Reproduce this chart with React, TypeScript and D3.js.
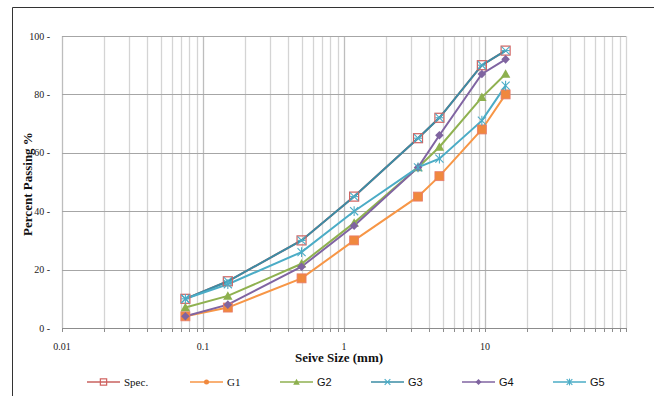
import React from "react";
import * as d3 from "d3";

const sizes = [0.075, 0.15, 0.5, 1.18, 3.35, 4.75, 9.5, 14];
const spec = [10, 16, 30, 45, 65, 72, 90, 95];
const g1 = [4, 7, 17, 30, 45, 52, 68, 80];
const g2 = [7, 11, 22, 36, 55, 62, 79, 87];
const g3 = [10, 16, 30, 45, 65, 72, 90, 95];
const g4 = [4, 8, 21, 35, 55, 66, 87, 92];
const g5 = [10, 15, 26, 40, 55, 58, 71, 83];
const yTicks = [0, 20, 40, 60, 80, 100];
const xLabels = [0.01, 0.1, 1, 10];
const seriesNames = ["Spec.", "G1", "G2", "G3", "G4", "G5"];

const W = 654;
const H = 396;
const x = d3.scaleLog().domain([0.01, 100]).range([62, 626]);
const y = d3.scaleLinear().domain([0, 100]).range([328, 36]);

const serif = "'Liberation Serif', 'DejaVu Serif', serif";
const sans = "'Liberation Sans', Arial, sans-serif";

type S = { name: string; values: number[]; color: string; marker: string; mcolor: string; mstroke: string };
const series: S[] = [
  { name: seriesNames[0], values: spec, color: "#C9625F", marker: "hsquare", mcolor: "none", mstroke: "#D0605E" },
  { name: seriesNames[1], values: g1, color: "#F79646", marker: "square", mcolor: "#F0883E", mstroke: "#E87C6C" },
  { name: seriesNames[2], values: g2, color: "#8FB150", marker: "triangle", mcolor: "#8DB04E", mstroke: "#8DB04E" },
  { name: seriesNames[3], values: g3, color: "#3B8CA5", marker: "xstar", mcolor: "#4BACC6", mstroke: "#4BACC6" },
  { name: seriesNames[4], values: g4, color: "#8064A2", marker: "diamond", mcolor: "#7F64A0", mstroke: "#7F64A0" },
  { name: seriesNames[5], values: g5, color: "#4BACC6", marker: "star", mcolor: "#4BACC6", mstroke: "#4BACC6" },
];

function Marker({ kind, cx, cy, fill, stroke, scale = 1 }: { kind: string; cx: number; cy: number; fill: string; stroke: string; scale?: number }) {
  const r = 4.5 * scale;
  if (kind === "hsquare")
    return <rect x={cx - r} y={cy - r} width={2 * r} height={2 * r} fill="none" stroke={stroke} strokeWidth={1.2} />;
  if (kind === "square")
    return <rect x={cx - r} y={cy - r} width={2 * r} height={2 * r} fill={fill} stroke={stroke} strokeWidth={0.8} />;
  if (kind === "circle")
    return <circle cx={cx} cy={cy} r={r * 0.8} fill={fill} />;
  if (kind === "triangle") {
    const s = r * 1.05;
    return <path d={`M${cx},${cy - s} L${cx + s},${cy + s * 0.8} L${cx - s},${cy + s * 0.8}Z`} fill={fill} />;
  }
  if (kind === "diamond") {
    const s = r * 0.95;
    return <path d={`M${cx},${cy - s} L${cx + s},${cy} L${cx},${cy + s} L${cx - s},${cy}Z`} fill={fill} />;
  }
  if (kind === "xstar") {
    const s = r * 0.9;
    return (
      <g stroke={stroke} strokeWidth={1.1}>
        <line x1={cx - s} y1={cy - s} x2={cx + s} y2={cy + s} />
        <line x1={cx - s} y1={cy + s} x2={cx + s} y2={cy - s} />
        <line x1={cx - s} y1={cy} x2={cx + s} y2={cy} />
      </g>
    );
  }
  const s = r * 0.9;
  return (
    <g stroke={stroke} strokeWidth={1.1}>
      <line x1={cx - s} y1={cy - s} x2={cx + s} y2={cy + s} />
      <line x1={cx - s} y1={cy + s} x2={cx + s} y2={cy - s} />
      <line x1={cx} y1={cy - s * 1.2} x2={cx} y2={cy + s * 1.2} />
    </g>
  );
}

export default function App() {
  const minors: number[] = [];
  for (let k = -2; k <= 1; k++) for (let m = 1; m <= 9; m++) minors.push(m * Math.pow(10, k));
  minors.push(100);
  const line = d3
    .line<number>()
    .x((_, i) => x(sizes[i]))
    .y((d) => y(d));
  const legendX = [87, 190, 280, 371, 462, 553];
  const legendY = 382;
  return (
    <svg width={W} height={H} style={{ position: "absolute", left: 0, top: 0, background: "#fff" }}>
      <rect x={0} y={0} width={W} height={H} fill="#fff" />
      <line x1={12.5} y1={7.5} x2={12.5} y2={H} stroke="#333" strokeWidth={1} />
      <line x1={12.5} y1={7.5} x2={W} y2={7.5} stroke="#333" strokeWidth={1} />
      {minors.map((v, i) => (
        <line key={"v" + i} x1={Math.round(x(v)) + 0.5} x2={Math.round(x(v)) + 0.5} y1={y(100)} y2={y(0)} stroke={[0.01, 0.1, 1, 10].includes(v) ? "#BDBDBD" : "#D4D4D4"} strokeWidth={1.3} />
      ))}
      {yTicks.map((t) => (
        <line key={"h" + t} x1={x(0.01)} x2={x(100)} y1={Math.round(y(t)) + 0.5} y2={Math.round(y(t)) + 0.5} stroke={t === 0 ? "#8C8C8C" : "#A6A6A6"} strokeWidth={1.2} />
      ))}
      {minors.map((v, i) => (
        <line key={"t" + i} x1={Math.round(x(v)) + 0.5} x2={Math.round(x(v)) + 0.5} y1={y(0)} y2={y(0) + 4} stroke="#8C8C8C" strokeWidth={1} />
      ))}
      {yTicks.map((t) => (
        <text key={"yl" + t} x={50} y={y(t) + 3.5} textAnchor="end" fontFamily={serif} fontSize={10} fill="#222">
          {t} -
        </text>
      ))}
      {xLabels.map((v) => (
        <text key={"xl" + v} x={x(v)} y={350} textAnchor="middle" fontFamily={serif} fontSize={10} fill="#222">
          {v}
        </text>
      ))}
      <text x={339} y={362} textAnchor="middle" fontFamily={serif} fontSize={13} fontWeight="bold" fill="#111">
        Seive Size (mm)
      </text>
      <text transform={`translate(32,${184}) rotate(-90)`} textAnchor="middle" fontFamily={serif} fontSize={13} fontWeight="bold" fill="#111">
        Percent Passing %
      </text>
      {series.map((s) => (
        <path key={"l" + s.name} d={line(s.values) || ""} fill="none" stroke={s.color} strokeWidth={2} />
      ))}
      {series.map((s) => (
        <g key={"m" + s.name}>
          {s.values.map((v, i) => (
            <Marker key={i} kind={s.marker} cx={x(sizes[i])} cy={y(v)} fill={s.mcolor} stroke={s.mstroke} />
          ))}
        </g>
      ))}
      {series.map((s, i) => (
        <g key={"lg" + s.name}>
          <line x1={legendX[i]} x2={legendX[i] + 33} y1={legendY} y2={legendY} stroke={s.color} strokeWidth={1.3} />
          <Marker kind={i === 1 ? "circle" : s.marker} cx={legendX[i] + 16.5} cy={legendY} fill={s.mcolor} stroke={s.mstroke} scale={0.7} />
          <text x={legendX[i] + 37} y={legendY + 4} fontFamily={i < 2 ? serif : sans} fontSize={11} fill="#111">
            {s.name}
          </text>
        </g>
      ))}
    </svg>
  );
}
